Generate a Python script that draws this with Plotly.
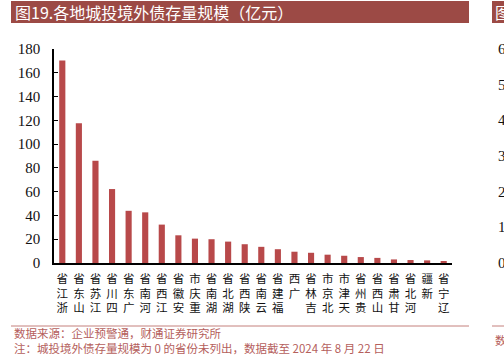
import plotly.graph_objects as go

provinces = ["浙江省", "山东省", "江苏省", "四川省", "广东省", "河南省", "江西省", "安徽省",
             "重庆市", "湖南省", "湖北省", "陕西省", "云南省", "福建省", "广西", "吉林省",
             "北京市", "天津市", "贵州省", "山西省", "甘肃省", "河北省", "新疆", "辽宁省"]
values = [170.3, 117.6, 86.0, 62.2, 43.9, 42.6, 32.3, 23.3, 20.5, 20.0, 18.0, 15.8,
          13.6, 11.6, 9.5, 8.6, 7.0, 6.1, 5.0, 4.3, 3.0, 2.5, 2.2, 1.6]
y_ticks = [0, 20, 40, 60, 80, 100, 120, 140, 160, 180]
title_text = "图19.各地城投境外债存量规模（亿元）"
source_text = "数据来源：企业预警通，财通证券研究所"
note_text = "注：城投境外债存量规模为 0 的省份未列出，数据截至 2024 年 8 月 22 日"

# vertical stacked labels (top row = last character)
tick_text = ["<br>".join(list(p[::-1])) for p in provinces]

W, H = 504, 356
pl, pr, pt, pb = 54, 52, 49, 93
pw, ph = W - pl - pr, H - pt - pb


def ax(x):
    return (x - pl) / pw


def ay(y):
    return (H - pb - y) / ph


fig = go.Figure()
fig.add_trace(go.Bar(
    x=provinces, y=values,
    marker=dict(color="#B8494A", line=dict(width=0)),
    width=0.37,
))

fig.update_layout(
    width=W, height=H,
    margin=dict(l=pl, r=pr, t=pt, b=pb, autoexpand=False),
    paper_bgcolor="white", plot_bgcolor="white",
    showlegend=False,
)
fig.update_xaxes(
    tickmode="array", tickvals=provinces, ticktext=tick_text,
    tickangle=0, automargin=False,
    tickfont=dict(family="Noto Sans CJK SC", size=11.5, color="#111"),
    showline=True, linecolor="black", linewidth=1.5,
    ticks="", showgrid=False, zeroline=False,
    ticklabelstandoff=4,
)
fig.update_yaxes(
    range=[0, 180], tickvals=y_ticks, automargin=False,
    tickfont=dict(family="Liberation Serif", size=15, color="#111"),
    showline=True, linecolor="black", linewidth=1.5,
    ticks="inside", ticklen=4, tickcolor="black", tickwidth=1,
    showgrid=False, zeroline=False,
    ticklabelstandoff=9,
)

shapes = [
    dict(type="rect", xref="paper", yref="paper", x0=ax(11), x1=ax(469),
         y0=ay(23), y1=ay(1), fillcolor="#9C4A45", line=dict(width=0), layer="above"),
    dict(type="line", xref="paper", yref="paper", x0=ax(11), x1=ax(469),
         y0=ay(326), y1=ay(326), line=dict(color="#C4807C", width=1), layer="above"),
    dict(type="rect", xref="paper", yref="paper", x0=ax(492), x1=ax(506),
         y0=ay(23), y1=ay(1), fillcolor="#9C4A45", line=dict(width=0), layer="above"),
    dict(type="line", xref="paper", yref="paper", x0=ax(492), x1=ax(506),
         y0=ay(326), y1=ay(326), line=dict(color="#C4807C", width=1), layer="above"),
]
fig.update_layout(shapes=shapes)

annotations = [
    dict(text=title_text, x=ax(13), y=ay(12), xref="paper", yref="paper",
         xanchor="left", yanchor="middle", showarrow=False,
         font=dict(family="Noto Sans CJK SC", size=16, color="white")),
    dict(text=source_text, x=ax(12), y=ay(333), xref="paper", yref="paper",
         xanchor="left", yanchor="middle", showarrow=False,
         font=dict(family="Noto Sans CJK SC", size=11.5, color="#B5605C")),
    dict(text=note_text, x=ax(12), y=ay(348), xref="paper", yref="paper",
         xanchor="left", yanchor="middle", showarrow=False,
         font=dict(family="Noto Sans CJK SC", size=11.5, color="#B5605C")),
    dict(text="图", x=ax(493), y=ay(12), xref="paper", yref="paper",
         xanchor="left", yanchor="middle", showarrow=False,
         font=dict(family="Noto Sans CJK SC", size=16, color="white")),
    dict(text="数", x=ax(493), y=ay(340), xref="paper", yref="paper",
         xanchor="left", yanchor="middle", showarrow=False,
         font=dict(family="Noto Sans CJK SC", size=11.5, color="#B5605C")),
]
for i, d in enumerate(["6", "5", "4", "3", "2", "1", "0"]):
    yy = 49 + i * (263 - 49) / 6
    annotations.append(dict(text=d, x=ax(496), y=ay(yy), xref="paper", yref="paper",
                            xanchor="left", yanchor="middle", showarrow=False,
                            font=dict(family="Liberation Serif", size=15, color="#111")))
fig.update_layout(annotations=annotations)

fig.write_html("out.html", config={"displayModeBar": False},
               post_script="document.body.style.margin='0';document.body.style.overflow='hidden';")
